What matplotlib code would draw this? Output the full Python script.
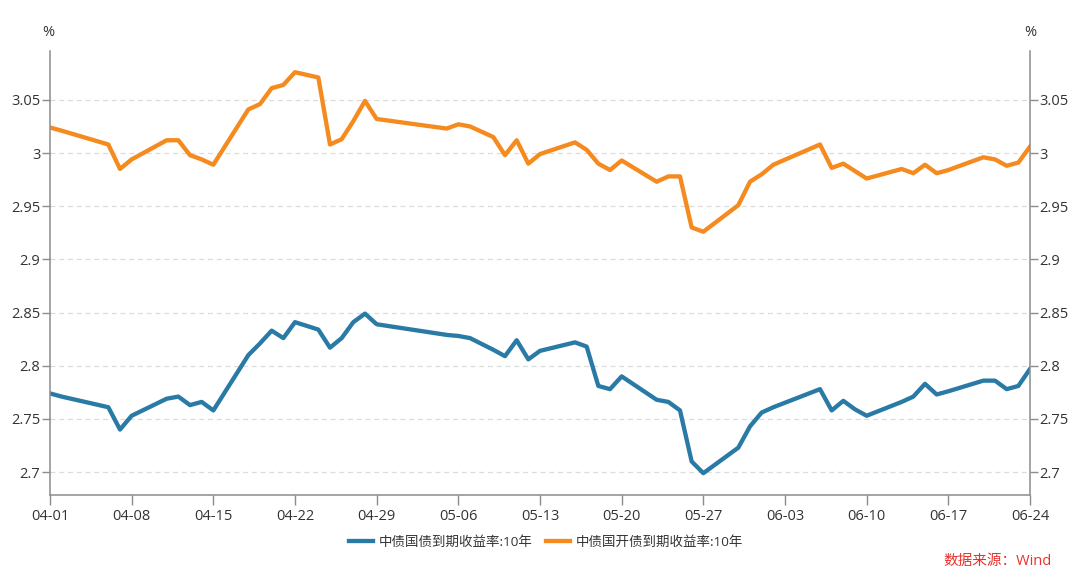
import matplotlib
matplotlib.use("Agg")
import matplotlib.pyplot as plt
import matplotlib.dates as mdates
import pandas as pd

plt.rcParams['font.family'] = ['Open Sans', 'Noto Sans CJK SC', 'DejaVu Sans']

dates = ["2022-04-01", "2022-04-02", "2022-04-06", "2022-04-07", "2022-04-08", "2022-04-11",
         "2022-04-12", "2022-04-13", "2022-04-14", "2022-04-15", "2022-04-18", "2022-04-19",
         "2022-04-20", "2022-04-21", "2022-04-22", "2022-04-24", "2022-04-25", "2022-04-26",
         "2022-04-27", "2022-04-28", "2022-04-29",
         "2022-05-05", "2022-05-06", "2022-05-07", "2022-05-09", "2022-05-10", "2022-05-11",
         "2022-05-12", "2022-05-13", "2022-05-16", "2022-05-17", "2022-05-18", "2022-05-19",
         "2022-05-20", "2022-05-23", "2022-05-24", "2022-05-25", "2022-05-26", "2022-05-27",
         "2022-05-30", "2022-05-31",
         "2022-06-01", "2022-06-02", "2022-06-06", "2022-06-07", "2022-06-08", "2022-06-09",
         "2022-06-10", "2022-06-13", "2022-06-14", "2022-06-15", "2022-06-16", "2022-06-17",
         "2022-06-20", "2022-06-21", "2022-06-22", "2022-06-23", "2022-06-24"]

cgb_10y = [2.774, 2.771, 2.761, 2.740, 2.753, 2.769, 2.771, 2.763, 2.766, 2.758, 2.810, 2.821,
           2.833, 2.826, 2.841, 2.834, 2.817, 2.826, 2.841, 2.849, 2.839,
           2.829, 2.828, 2.826, 2.815, 2.809, 2.824, 2.806, 2.814, 2.822, 2.818, 2.781, 2.778,
           2.790, 2.768, 2.766, 2.758, 2.710, 2.699, 2.723, 2.743,
           2.756, 2.761, 2.778, 2.758, 2.767, 2.759, 2.753, 2.766, 2.771, 2.783, 2.773, 2.776,
           2.786, 2.786, 2.778, 2.781, 2.797]

cdb_10y = [3.024, 3.021, 3.008, 2.985, 2.994, 3.012, 3.012, 2.998, 2.994, 2.989, 3.041, 3.046,
           3.061, 3.064, 3.076, 3.071, 3.008, 3.013, 3.030, 3.049, 3.032,
           3.023, 3.027, 3.025, 3.015, 2.998, 3.012, 2.990, 2.999, 3.010, 3.003, 2.990, 2.984,
           2.993, 2.973, 2.978, 2.978, 2.930, 2.926, 2.951, 2.973,
           2.980, 2.989, 3.008, 2.986, 2.990, 2.983, 2.976, 2.985, 2.981, 2.989, 2.981, 2.984,
           2.996, 2.994, 2.988, 2.991, 3.006]

series_names = ["中债国债到期收益率:10年", "中债国开债到期收益率:10年"]
y_ticks = [2.7, 2.75, 2.8, 2.85, 2.9, 2.95, 3.0, 3.05]
y_tick_labels = ["2.7", "2.75", "2.8", "2.85", "2.9", "2.95", "3", "3.05"]
x_tick_start, x_tick_end = "2022-04-01", "2022-06-24"

x = pd.to_datetime(dates)
xticks = pd.date_range(x_tick_start, x_tick_end, freq="7D")

fig = plt.figure(figsize=(10.8, 5.78), dpi=100)
ax = fig.add_axes([50/1080, 1 - 495.3/578, 980/1080, (495.3 - 50.7)/578])

blue = "#2a7aa6"
orange = "#f58a1f"
ax.plot(x, cgb_10y, color=blue, lw=3.1, solid_joinstyle="round", label=series_names[0])
ax.plot(x, cdb_10y, color=orange, lw=3.1, solid_joinstyle="round", label=series_names[1])

ax.set_xlim(pd.Timestamp(x_tick_start), pd.Timestamp(x_tick_end))
ax.set_ylim(2.6782, 3.0962)
ax.set_yticks(y_ticks)
ax.set_yticklabels(y_tick_labels)
ax.set_xticks(xticks)
ax.xaxis.set_major_formatter(mdates.DateFormatter("%m-%d"))

ax.grid(axis="y", color="#dcdcdc", linestyle=(0, (4, 3)), linewidth=0.9)
ax.set_axisbelow(True)

spine_c = "#8c8c8c"
for s in ["left", "right", "bottom"]:
    ax.spines[s].set_color(spine_c)
    ax.spines[s].set_linewidth(1.1)
ax.spines["top"].set_visible(False)

ax.tick_params(axis="y", which="both", left=True, right=True, labelleft=True, labelright=True,
               length=6, width=1, color=spine_c, labelsize=10.5, labelcolor="#333333", pad=1)
ax.tick_params(axis="x", length=7, width=1, color=spine_c, labelsize=10.5, labelcolor="#333333", pad=3)

fig.text(48/1080, 1 - 33/578, "%", ha="center", va="center", fontsize=10.5, color="#333333")
fig.text(1030/1080, 1 - 33/578, "%", ha="center", va="center", fontsize=10.5, color="#333333")

leg = fig.legend(loc="center", bbox_to_anchor=(546/1080, 1 - 542/578), ncol=2, frameon=False,
                 fontsize=9.7, handlelength=1.8, handletextpad=0.4, columnspacing=1.0)
for t in leg.get_texts():
    t.set_color("#333333")

fig.text(1052/1080, 1 - 562/578, "数据来源：Wind", ha="right", va="center", fontsize=10.5,
         color="#e8312a")

fig.savefig("out.png", dpi=100)
